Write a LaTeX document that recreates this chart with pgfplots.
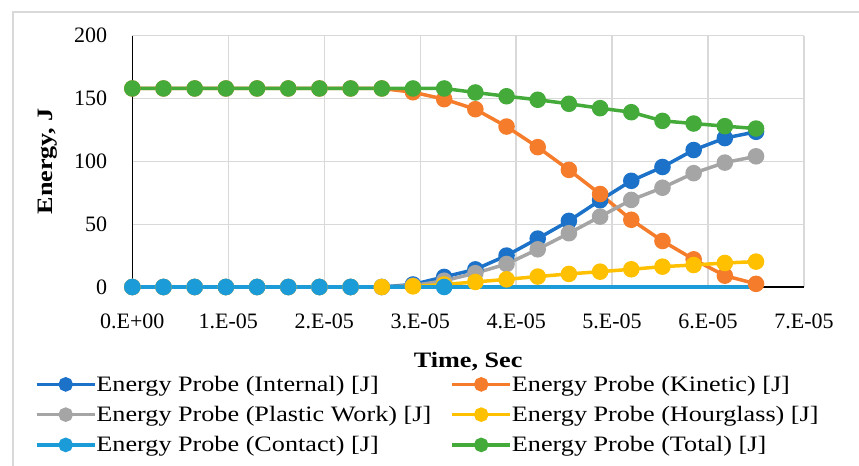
\documentclass[border=0pt]{standalone}
\usepackage{fontspec}
\setmainfont{Liberation Serif}
\newfontfamily\legfont{Liberation Serif}[FakeStretch=1.19]
\usepackage{pgfplots}
\pgfplotsset{compat=1.18}
\definecolor{cInt}{HTML}{1B72C8}
\definecolor{cKin}{HTML}{F57C2B}
\definecolor{cPla}{HTML}{A5A5A5}
\definecolor{cHou}{HTML}{FFC000}
\definecolor{cCon}{HTML}{1B9BD7}
\definecolor{cTot}{HTML}{44AA3A}
\definecolor{cGrid}{HTML}{D9D9D9}
\pgfplotstableread{
x      int    kin    pla    hou   con  tot
0      0      158    0      0     0    158
0.325  0      158    0      0     0    158
0.65   0      158    0      0     0    158
0.975  0      158    0      0     0    158
1.3    0      158    0      0     0    158
1.625  0      158    0      0     0    158
1.95   0      158    0      0     0    158
2.275  0      158    0      0     0    158
2.6    0      158    0      0     0    158
2.925  2      155    1      0.5   0    158
3.25   8      149.5  5      2     0    158
3.575  14     141.5  11     4     0    154.8
3.9    25     127.7  18.3   6.1   0    151.8
4.225  38.5   111.3  30     8.3   0    149
4.55   52.6   93.2   42.8   10.4  0    145.8
4.875  69     74     56     12.2  0    142.3
5.2    84.5   53.5   69.3   14.1  0    139.1
5.525  95.5   36.6   79     16.2  0    132.2
5.85   109    22     90.6   17.5  0    130.1
6.175  118.5  9      99     19.1  0    128
6.5    123.5  2.5    104    20.2  0    126.1
}\datatable
\begin{document}
\begin{tikzpicture}[x=1bp,y=1bp]
\useasboundingbox (0,0) rectangle (859,466);
\draw[color=black!15, line width=1.2bp] (13,0) -- (13,454) -- (859,454);
\begin{axis}[
  at={(132.3bp,179bp)}, anchor=south west,
  scale only axis, width=671.7bp, height=251.3bp,
  xmin=0, xmax=7, ymin=0, ymax=200,
  clip=false,
  xtick={0,...,7},
  xticklabels={0.E+00,1.E-05,2.E-05,3.E-05,4.E-05,5.E-05,6.E-05,7.E-05},
  ytick={0,50,...,200},
  grid=major, grid style={color=cGrid, line width=1.3bp},
  axis x line*=bottom, axis y line*=left,
  axis line style={black, line width=1.3bp, -},
  major tick length=0pt,
  /pgf/number format/assume math mode=true,
  tick label style={font=\fontsize{22bp}{26bp}\selectfont},
  xticklabel style={anchor=center, inner sep=0pt, yshift=-34bp},
  yticklabel style={anchor=east, inner sep=0pt, xshift=-25bp},
  label style={font=\legfont\bfseries\fontsize{22bp}{26bp}\selectfont},
  xlabel={Time, Sec},
  ylabel={Energy, J},
  xlabel style={at={(axis description cs:0.5,-0.2985)}, anchor=center},
  ylabel style={at={(axis description cs:-0.1255,0.5)}, anchor=center},
  legend columns=2,
  legend cell align=left,
  legend style={at={(axis description cs:-0.1449,-0.3542)}, anchor=north west,
    draw=none, fill=none, inner sep=0pt, outer sep=0pt,
    font=\legfont\fontsize{22bp}{26bp}\selectfont,
    column sep=0bp, row sep=13.5bp,
    /tikz/every odd column/.style={column sep=0bp},
    /tikz/every even column/.style={column sep=0bp},
    nodes={inner sep=0pt, outer sep=0pt}},
  legend image code/.code={\draw[mark indices={2}, mark size=5.5bp] plot coordinates {(0bp,0bp) (29bp,0bp) (58bp,0bp)};},
  every axis plot/.append style={line width=3.5bp, mark=*, mark size=6.5bp, mark options={solid}},
]
\addplot[cInt, mark options={fill=cInt, draw=cInt}] table[x=x, y=int] {\datatable};
\addlegendentry{\makebox[354bp][l]{Energy Probe (Internal) [J]}}
\addplot[cKin, mark options={fill=cKin, draw=cKin}] table[x=x, y=kin] {\datatable};
\addlegendentry{Energy Probe (Kinetic) [J]}
\addplot[cPla, mark options={fill=cPla, draw=cPla}] table[x=x, y=pla] {\datatable};
\addlegendentry{\makebox[354bp][l]{Energy Probe (Plastic Work) [J]}}
\addplot[cHou, mark options={fill=cHou, draw=cHou}] table[x=x, y=hou] {\datatable};
\addlegendentry{Energy Probe (Hourglass) [J]}
\addplot[cCon, mark options={fill=cCon, draw=cCon}, mark indices={1,...,8,11}] table[x=x, y=con] {\datatable};
\addlegendentry{\makebox[354bp][l]{Energy Probe (Contact) [J]}}
\addplot[cTot, mark options={fill=cTot, draw=cTot}] table[x=x, y=tot] {\datatable};
\addlegendentry{Energy Probe (Total) [J]}
\end{axis}
\end{tikzpicture}
\end{document}
